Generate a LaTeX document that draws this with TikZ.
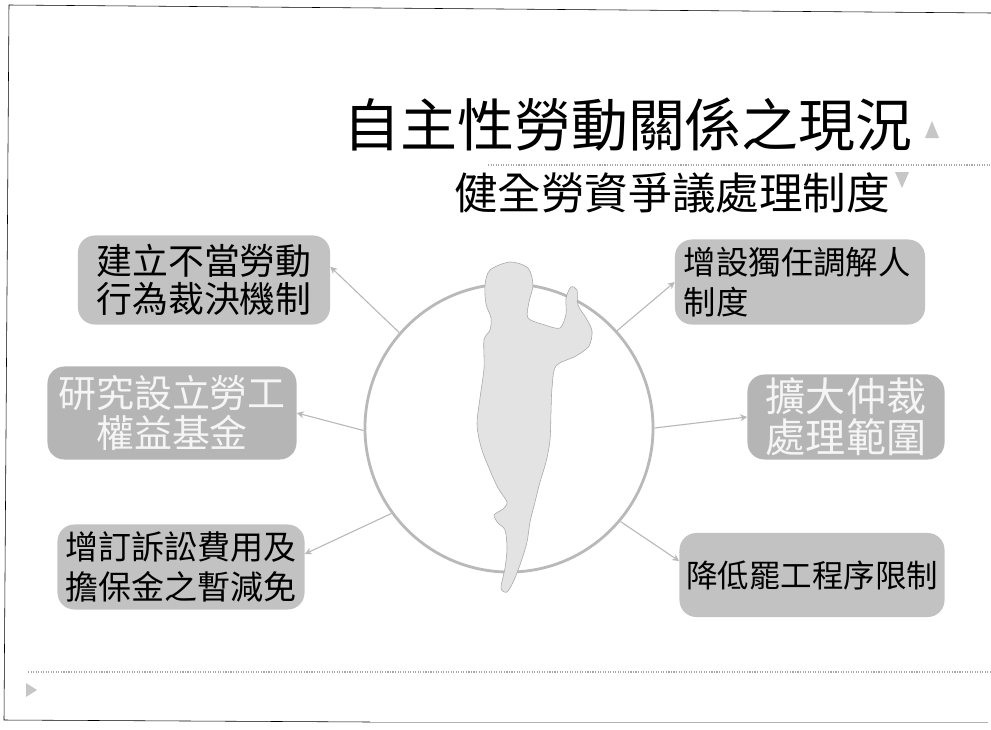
\documentclass[tikz,border=0pt]{standalone}
\usepackage{fontspec}
\newfontfamily\cjk{Noto Sans CJK TC}
\usetikzlibrary{arrows.meta}
\tikzstyle{link} = [gray!55, thick, -{Stealth[length=5pt,width=5pt]}]
\tikzstyle{card} = [rounded corners=12pt, fill=gray!48, inner sep=0pt, align=center, font=\cjk]
\tikzstyle{pointer} = [fill=gray!45]

\begin{document}
\begin{tikzpicture}[x=0.025cm, y=-0.025cm]
\useasboundingbox (0,0) rectangle (991,729);
% page frame
\draw[thin] (991,13) -- (9,5) -- (4,720) -- (370,722);
\draw[thin, gray!60] (370,722) -- (988,722);

% heading
\node (title) at (628,125) {\cjk\fontsize{40.5}{44}\selectfont 自主性勞動關係之現況};
\node (subtitle) at (672,193) {\cjk\fontsize{31}{34}\selectfont 健全勞資爭議處理制度};
\draw[densely dotted, thick, gray!70] (488,165) -- (991,165);
\fill[pointer] (925,138) -- (939,138) -- (932,121) -- cycle;
\fill[pointer] (895,172) -- (909,172) -- (902,188) -- cycle;

% centre circle with figure
\node[circle, draw=gray!55, line width=2pt, minimum size=7.2cm, inner sep=0pt] (hub) at (509,428) {};
\draw[gray!70, fill=gray!22, thin] plot[smooth cycle, tension=0.5] coordinates {
  (510,262) (528,268) (533,285) (529,302) (528,318) (545,325) (560,328)
  (566,314) (566,298) (571,287) (577,290) (578,305) (586,318) (592,331)
  (589,346) (576,356) (556,366) (552,388) (551,412) (550,440) (546,462)
  (540,482) (535,502) (530,522) (527,542) (521,562) (514,580) (507,592)
  (501,588) (505,568) (507,548) (505,530) (498,523) (494,515) (503,509)
  (507,502) (498,488) (489,468) (481,447) (477,424) (480,398) (484,368)
  (484,340) (490,330) (491,318) (486,304) (485,285) (490,270)};

% measures
\node[card, minimum width=6.3cm, minimum height=2.225cm, font=\cjk\fontsize{25.5}{27}\selectfont] (tl) at (204,280) {建立不當勞動\\行為裁決機制};
\node[card, fill=gray!58, text=gray!8, minimum width=6.225cm, minimum height=2.325cm, font=\cjk\fontsize{27}{28}\selectfont] (ml) at (172,413) {研究設立勞工\\權益基金};
\node[card, minimum width=6.175cm, minimum height=2.125cm, font=\cjk\fontsize{23.5}{28}\selectfont] (bl) at (181,567) {增訂訴訟費用及\\擔保金之暫減免};
\node[card, align=left, text width=5.8cm, minimum width=6.25cm, minimum height=2.125cm, font=\cjk\fontsize{23}{28}\selectfont] (tr) at (800,282) {增設獨任調解人\\制度};
\node[card, fill=gray!58, text=gray!8, minimum width=4.925cm, minimum height=2.125cm, font=\cjk\fontsize{28.5}{29}\selectfont] (mr) at (846,417) {擴大仲裁\\處理範圍};
\node[card, minimum width=6.625cm, minimum height=2.1cm, font=\cjk\fontsize{22.4}{26}\selectfont] (br) at (812,575) {降低罷工程序限制};

% links from circle
\draw[link] (hub.139) -- (tl.6);
\draw[link] (hub.181) -- (ml.east);
\draw[link] (hub.216) -- (bl.6);
\draw[link] (hub.42) -- (tr.west);
\draw[link] (hub.0) -- (mr.west);
\draw[link] (hub.-40) -- (br.174);

% footer rule
\draw[densely dotted, thick, gray!70] (28,672) -- (991,672);
\fill[pointer] (26,683) -- (26,697) -- (37,690) -- cycle;
\end{tikzpicture}
\end{document}
